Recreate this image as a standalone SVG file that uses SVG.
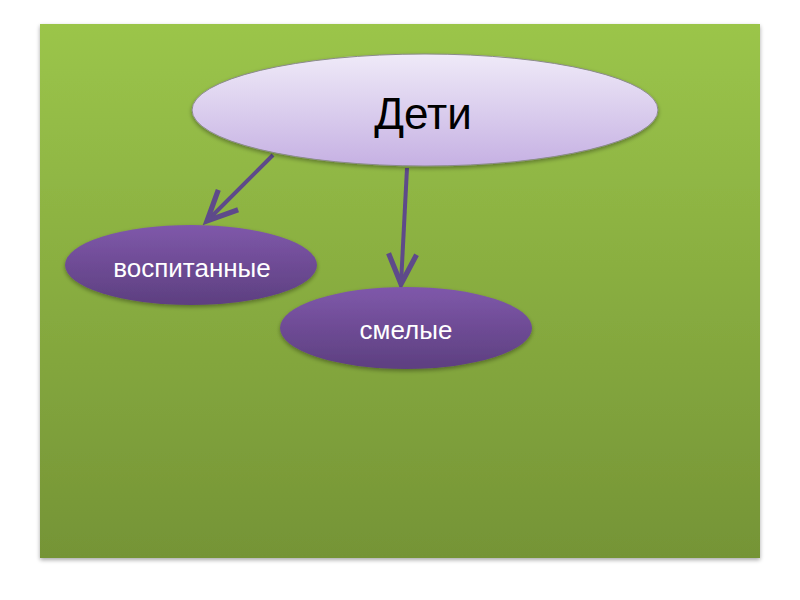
<svg xmlns="http://www.w3.org/2000/svg" width="800" height="600" viewBox="0 0 800 600">
<defs>
<linearGradient id="bg" x1="0" y1="0" x2="0" y2="1">
<stop offset="0" stop-color="#9bc54a"/>
<stop offset="1" stop-color="#759436"/>
</linearGradient>
<linearGradient id="lilac" x1="0" y1="0" x2="0" y2="1">
<stop offset="0" stop-color="#efeaf8"/>
<stop offset="1" stop-color="#c6b1e3"/>
</linearGradient>
<linearGradient id="purple" x1="0" y1="0" x2="0" y2="1">
<stop offset="0" stop-color="#7f58aa"/>
<stop offset="1" stop-color="#5d3f80"/>
</linearGradient>
<filter id="sh" x="-10%" y="-20%" width="120%" height="150%">
<feGaussianBlur in="SourceAlpha" stdDeviation="2"/>
<feOffset dx="0" dy="2" result="b"/>
<feComponentTransfer><feFuncA type="linear" slope="0.35"/></feComponentTransfer>
<feMerge><feMergeNode/><feMergeNode in="SourceGraphic"/></feMerge>
</filter>
<marker id="arr" viewBox="0 0 20 20" refX="17" refY="10" markerWidth="10" markerHeight="10" markerUnits="strokeWidth" orient="auto">
<path d="M2,3 L17,10 L2,17" fill="none" stroke="#5e4a8a" stroke-width="2.6" stroke-linejoin="miter"/>
</marker>
<style>
.lbl{font-family:"Liberation Sans",Arial,sans-serif;text-anchor:middle}
.edge{stroke:#5e4a8a;stroke-width:4;fill:none;marker-end:url(#arr)}
</style>
</defs>
<rect x="0" y="0" width="800" height="600" fill="#ffffff"/>
<rect x="40" y="24" width="720" height="534" fill="url(#bg)" filter="url(#sh)"/>
<g id="connectors">
<line class="edge" x1="273" y1="155" x2="207" y2="221"/>
<line class="edge" x1="407" y1="168" x2="401" y2="284"/>
</g>
<g id="node-deti">
<ellipse cx="425" cy="110" rx="233" ry="56" fill="url(#lilac)" stroke="#8a8a8a" stroke-width="1" filter="url(#sh)"/>
<text class="lbl" x="423" y="129" font-size="44" fill="#000000">Дети</text>
</g>
<g id="node-vospitannye">
<ellipse cx="191" cy="265" rx="126" ry="40" fill="url(#purple)" filter="url(#sh)"/>
<text class="lbl" x="192" y="277" font-size="26" fill="#ffffff">воспитанные</text>
</g>
<g id="node-smelye">
<ellipse cx="406" cy="328" rx="126" ry="41" fill="url(#purple)" filter="url(#sh)"/>
<text class="lbl" x="406" y="339" font-size="26" fill="#ffffff">смелые</text>
</g>
</svg>
